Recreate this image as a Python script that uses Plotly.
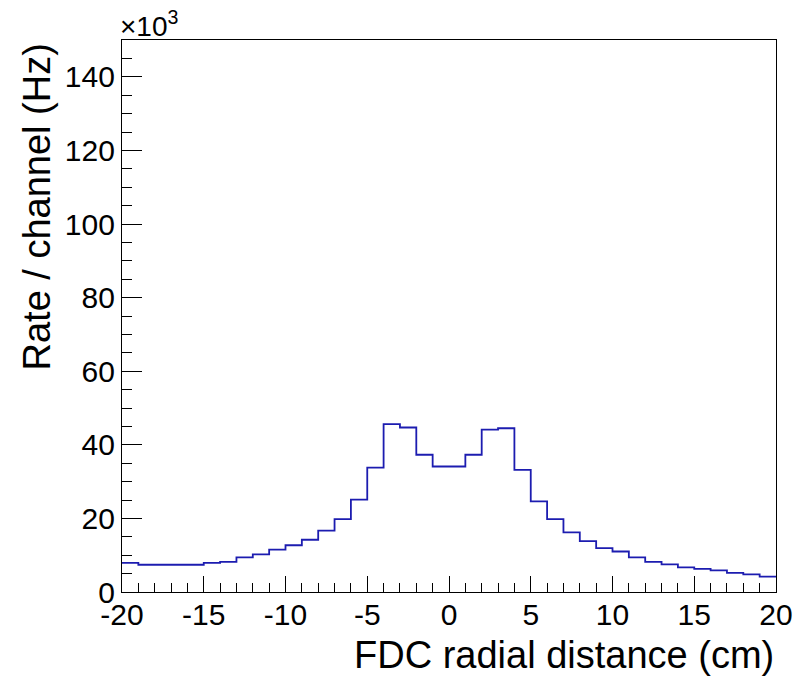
import numpy as np
import plotly.graph_objects as go

# Histogram: FDC radial distance, 1 cm bins from -20 to 20 cm
bin_edges = list(range(-20, 21))
rate_k = [7.9, 7.4, 7.4, 7.4, 7.4, 7.9, 8.2, 9.4, 10.2, 11.5,
          12.7, 14.2, 16.7, 19.8, 25.1, 33.8, 45.6, 44.7, 37.3, 34.1,
          34.1, 37.3, 44.1, 44.5, 33.2, 24.6, 19.8, 16.2, 13.8, 11.9,
          11.0, 9.4, 8.2, 7.5, 6.7, 6.3, 5.9, 5.2, 4.8, 4.2]

x_ticks = [-20, -15, -10, -5, 0, 5, 10, 15, 20]
x_ticklabels = ["-20", "-15", "-10", "-5", "0", "5", "10", "15", "20"]
y_ticks = [0, 20, 40, 60, 80, 100, 120, 140]
y_ticklabels = ["0", "20", "40", "60", "80", "100", "120", "140"]

FONT = "Liberation Sans, Arial, Helvetica, sans-serif"

xs = bin_edges
ys = rate_k + [rate_k[-1]]

fig = go.Figure()
fig.add_trace(go.Scatter(
    x=xs, y=ys, mode="lines", line=dict(shape="hv", color="#1c1cb0", width=1.8),
    showlegend=False, hoverinfo="skip"))

fig.update_layout(
    width=807, height=677,
    margin=dict(l=122, r=31, t=40, b=85),
    paper_bgcolor="white", plot_bgcolor="white",
    font=dict(family=FONT, color="black"),
    xaxis=dict(range=[-20, 20], tickmode="array", tickvals=x_ticks, ticktext=x_ticklabels,
               ticks="inside", ticklen=16, tickwidth=1.3, tickcolor="black",
               minor=dict(ticks="inside", ticklen=9, dtick=1, tickwidth=1.3, tickcolor="black"),
               showline=True, linecolor="black", linewidth=1.3, mirror=True,
               showgrid=False, zeroline=False, tickfont=dict(size=30, family=FONT),
               ticklabelstandoff=-4),
    yaxis=dict(range=[0, 150], tickmode="array", tickvals=y_ticks, ticktext=y_ticklabels,
               ticks="inside", ticklen=20, tickwidth=1.3, tickcolor="black",
               minor=dict(ticks="inside", ticklen=10, dtick=5, tickwidth=1.3, tickcolor="black"),
               showline=True, linecolor="black", linewidth=1.3, mirror=True,
               showgrid=False, zeroline=False, tickfont=dict(size=30, family=FONT)),
)

fig.add_annotation(text="FDC radial distance (cm)", xref="paper", yref="paper",
                   x=1, y=0, xanchor="right", yanchor="top", yshift=-40,
                   showarrow=False, font=dict(size=38, family=FONT))
fig.add_annotation(text="Rate / channel (Hz)", xref="paper", yref="paper",
                   x=0, y=1, xanchor="right", yanchor="top", xshift=-63, yshift=-2,
                   textangle=-90,
                   showarrow=False, font=dict(size=38, family=FONT))
fig.add_annotation(text="×10<sup>3</sup>", xref="paper", yref="paper",
                   x=0, y=1, xanchor="left", yanchor="bottom", xshift=-4, yshift=-4,
                   showarrow=False, font=dict(size=28, family=FONT))

fig.write_html("out.html", config={"displayModeBar": False},
               post_script="document.body.style.margin='0';")
